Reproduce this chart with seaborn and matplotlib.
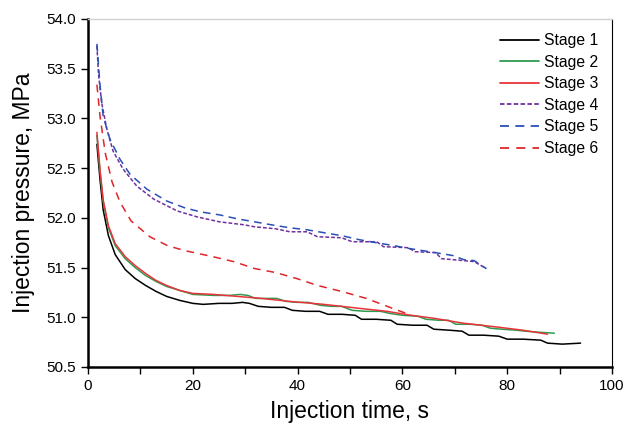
import matplotlib
matplotlib.use("Agg")
import matplotlib.pyplot as plt
from matplotlib.ticker import MultipleLocator, FormatStrFormatter
import seaborn as sns
import pandas as pd

sns.set_theme(style="white")
plt.rcParams['font.family'] = ['Liberation Sans', 'DejaVu Sans']
plt.rcParams['text.color'] = 'black'
plt.rcParams['axes.labelcolor'] = 'black'

# ---- data ----
t1 = [1.7, 2.3, 2.9, 3.9, 5.2, 7.1, 9.0, 11, 13, 15, 17.5, 20, 22, 25, 27.5, 29.5, 30.8, 32.5,
      35, 37.5, 39, 41.5, 44.2, 45.8, 48.5, 51, 52.2, 55, 57.8, 59, 62, 64.7, 66, 69, 71.4,
      72.7, 75.5, 78.4, 80, 83, 86.4, 87.7, 90.5, 94]
p1 = [52.74, 52.38, 52.08, 51.82, 51.63, 51.48, 51.39, 51.32, 51.26, 51.21, 51.17, 51.14,
      51.13, 51.14, 51.14, 51.15, 51.14, 51.11, 51.10, 51.10, 51.07, 51.06, 51.06, 51.03,
      51.03, 51.02, 50.98, 50.98, 50.97, 50.93, 50.92, 50.92, 50.88, 50.87, 50.86, 50.82,
      50.82, 50.81, 50.78, 50.78, 50.77, 50.74, 50.73, 50.74]

t2 = [1.7, 2.3, 2.9, 3.9, 5.2, 7.1, 9.0, 11, 13, 15, 17.5, 20, 24, 27, 29, 30.5, 32, 34, 36,
      37.8, 40, 42, 44.4, 46.5, 48.4, 50.4, 53, 55.8, 57.5, 60, 63, 64.5, 67, 68.8, 70.2, 73,
      75.2, 76.8, 79, 81.7, 83.5, 86, 89]
p2 = [52.83, 52.46, 52.16, 51.90, 51.72, 51.59, 51.50, 51.42, 51.36, 51.31, 51.27, 51.23,
      51.22, 51.22, 51.23, 51.22, 51.19, 51.19, 51.19, 51.16, 51.15, 51.15, 51.12, 51.11,
      51.11, 51.07, 51.06, 51.06, 51.04, 51.02, 51.01, 50.98, 50.97, 50.97, 50.93, 50.93,
      50.92, 50.89, 50.88, 50.87, 50.86, 50.85, 50.84]

t3 = [1.7, 2.3, 2.9, 3.9, 5.2, 7.1, 9.0, 11, 13, 15, 17.5, 20, 24, 28.5, 33, 38.5, 45, 51.8,
      57, 61.7, 66, 71.7, 78.4, 83, 87.7]
p3 = [52.86, 52.48, 52.18, 51.92, 51.74, 51.61, 51.52, 51.44, 51.37, 51.32, 51.27, 51.24,
      51.23, 51.21, 51.19, 51.16, 51.13, 51.09, 51.06, 51.02, 50.99, 50.94, 50.90, 50.87, 50.83]

t4 = [1.7, 2.0, 2.6, 3.6, 4.8, 6.7, 9.3, 12.5, 17.0, 20.8, 25.1, 29.8, 31.8, 35.8, 38.5,
      41.8, 43.8, 48.4, 50.4, 55.1, 56.4, 61.1, 62.4, 66.4, 67.4, 71.7, 73.7, 76.0]
p4 = [53.73, 53.45, 53.16, 52.89, 52.67, 52.49, 52.32, 52.19, 52.07, 52.01, 51.96, 51.93,
      51.91, 51.89, 51.86, 51.86, 51.81, 51.80, 51.76, 51.76, 51.71, 51.70, 51.66, 51.65,
      51.59, 51.57, 51.56, 51.49]

t5 = [1.7, 2.3, 2.9, 4.2, 6.1, 8.0, 11.2, 15.0, 18.5, 21.5, 25.1, 28.5, 31.8, 35, 38.5,
      41.8, 45.1, 48.5, 51.8, 55, 58.4, 61.5, 65.1, 67.5, 69.7, 71.7, 73.7, 76.0]
p5 = [53.75, 53.33, 53.02, 52.79, 52.59, 52.44, 52.29, 52.17, 52.10, 52.06, 52.03, 51.99,
      51.96, 51.93, 51.90, 51.88, 51.85, 51.82, 51.78, 51.75, 51.72, 51.69, 51.66, 51.64,
      51.62, 51.58, 51.57, 51.49]

t6 = [1.7, 2.3, 3.3, 4.6, 6.1, 8.2, 11.8, 15.2, 18.5, 23.8, 27.8, 31.8, 35.8, 39.8, 43.8,
      48.4, 53.1, 57.1, 61.7]
p6 = [53.34, 53.02, 52.65, 52.36, 52.16, 51.97, 51.81, 51.72, 51.67, 51.61, 51.56, 51.49,
      51.45, 51.39, 51.32, 51.26, 51.19, 51.11, 51.02]

labels = ["Stage 1", "Stage 2", "Stage 3", "Stage 4", "Stage 5", "Stage 6"]
times = [t1, t2, t3, t4, t5, t6]
pressures = [p1, p2, p3, p4, p5, p6]
colors = ["#000000", "#2f9a4f", "#e8333a", "#7030a0", "#2b50b5", "#e0252a"]
dashes = [None, None, None, (2.5, 1.3), (5, 3.5), (5, 4)]

fig = plt.figure(figsize=(6.28, 4.26), dpi=100)
ax = fig.add_axes([88/628, 1-367/426, (612-88)/628, (367-19)/426])

for lab, t, p, c, d in zip(labels, times, pressures, colors, dashes):
    df = pd.DataFrame({"t": t, "p": p})
    sns.lineplot(data=df, x="t", y="p", ax=ax, color=c, linewidth=1.1,
                 label=lab, sort=False)
    if d is not None:
        ax.lines[-1].set_dashes(d)

ax.set_xlim(0, 100)
ax.set_ylim(50.5, 54.0)
ax.xaxis.set_major_locator(MultipleLocator(20))
ax.xaxis.set_minor_locator(MultipleLocator(10))
ax.yaxis.set_major_locator(MultipleLocator(0.5))
ax.yaxis.set_major_formatter(FormatStrFormatter('%.1f'))
ax.tick_params(axis='both', which='both', direction='out', colors='black',
               labelsize=11, length=5, width=1)
ax.tick_params(axis='x', which='minor', length=5, width=1, bottom=True)
ax.tick_params(axis='x', which='major', bottom=True, pad=4)
ax.tick_params(axis='y', which='major', left=True, pad=4)

for s in ['left', 'bottom']:
    ax.spines[s].set_color('black')
    ax.spines[s].set_linewidth(1.8)
ax.spines['right'].set_color('black')
ax.spines['right'].set_linewidth(0.8)
ax.spines['top'].set_color('#d0d0d0')
ax.spines['top'].set_linewidth(1.0)

ax.set_xlabel("Injection time, s", fontsize=16.5, labelpad=5, color='black')
ax.set_ylabel("Injection pressure, MPa", fontsize=16.5, labelpad=8, color='black')

leg = ax.legend(loc='upper right', frameon=False, fontsize=11.3, handlelength=2.5,
                labelspacing=0.42, borderaxespad=0.5, handletextpad=0.3)
for txt in leg.get_texts():
    txt.set_color('black')
for h in leg.get_lines():
    h.set_linewidth(1.3)

fig.savefig("out.png", dpi=100)
